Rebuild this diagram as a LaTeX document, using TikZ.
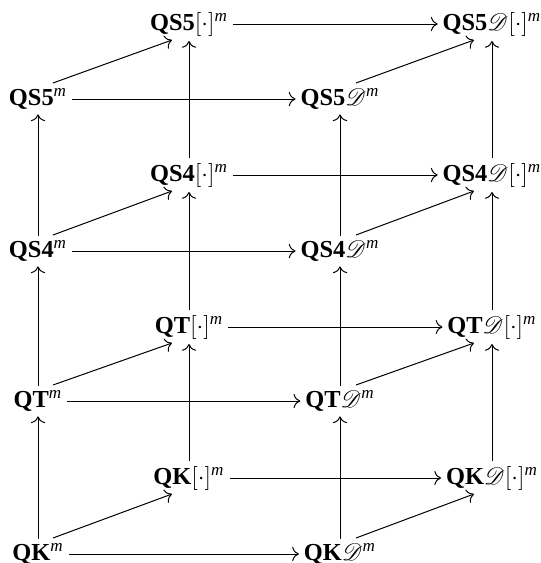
\documentclass[tikz,border=0pt]{standalone}
\usepackage{amsmath}
\usepackage{fontspec}
\setmainfont{Liberation Serif}
\usepackage{mathrsfs}
\usetikzlibrary{arrows.meta,calc}
\newcommand{\supm}{^{\textit{m}}}
\begin{document}
\begin{tikzpicture}[x=0.5pt,y=-0.5pt,
  obj/.style={inner sep=2.5pt,outer sep=0pt,font=\fontsize{12.2}{14}\selectfont},
  arr/.style={line width=0.5pt,-{Computer Modern Rightarrow[scale=1.25]}}]
\useasboundingbox (0,0) rectangle (541,563);
% QK level
\node[obj] (k1) at (38,554) {\textbf{QK}$\supm$};
\node[obj] (k2) at (189,478) {\textbf{QK}$[\cdot]\supm$};
\node[obj] (k3) at (340,554) {\textbf{QK}$\mathscr{D}\supm$};
\node[obj] (k4) at (492,478) {\textbf{QK}$\mathscr{D}[\cdot]\supm$};
% QT level
\node[obj] (t1) at (38,401) {\textbf{QT}$\supm$};
\node[obj] (t2) at (189,327) {\textbf{QT}$[\cdot]\supm$};
\node[obj] (t3) at (340,401) {\textbf{QT}$\mathscr{D}\supm$};
\node[obj] (t4) at (492,327) {\textbf{QT}$\mathscr{D}[\cdot]\supm$};
% QS4 level
\node[obj] (f1) at (38,251) {\textbf{QS4}$\supm$};
\node[obj] (f2) at (189,175) {\textbf{QS4}$[\cdot]\supm$};
\node[obj] (f3) at (340,251) {\textbf{QS4}$\mathscr{D}\supm$};
\node[obj] (f4) at (492,175) {\textbf{QS4}$\mathscr{D}[\cdot]\supm$};
% QS5 level
\node[obj] (v1) at (38,99) {\textbf{QS5}$\supm$};
\node[obj] (v2) at (189,24) {\textbf{QS5}$[\cdot]\supm$};
\node[obj] (v3) at (340,99) {\textbf{QS5}$\mathscr{D}\supm$};
\node[obj] (v4) at (492,24) {\textbf{QS5}$\mathscr{D}[\cdot]\supm$};
% horizontal and diagonal arrows
\foreach \a in {k,t,f,v}{
  \draw[arr] (\a1) -- (\a3);
  \draw[arr] (\a2) -- (\a4);
  \draw[arr] ($(\a1.center)+(15,-16)$) -- ($(\a2.center)+(-17,16)$);
  \draw[arr] ($(\a3.center)+(16,-16)$) -- ($(\a4.center)+(-18,16)$);
}
% vertical arrows
\foreach \lo/\hi in {k/t,t/f,f/v}{
  \foreach \c in {1,2,3,4}{
    \draw[arr] (\lo\c) -- (\hi\c);
  }
}
\end{tikzpicture}
\end{document}
